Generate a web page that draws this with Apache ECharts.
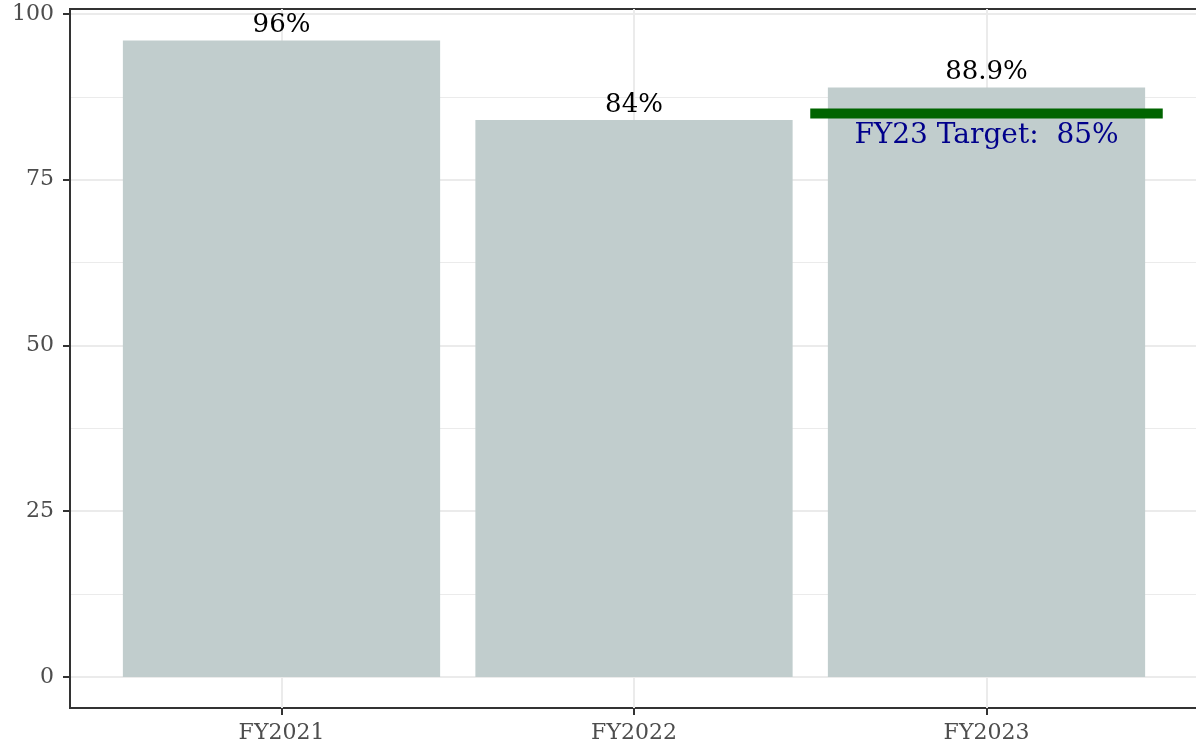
<!DOCTYPE html>
<html>
<head>
<meta charset="utf-8">
<script src="https://cdn.jsdelivr.net/npm/echarts@6/dist/echarts.min.js"></script>
<style>
html,body{margin:0;padding:0;background:#fff;}
#chart{width:1196px;height:746px;}
</style>
</head>
<body>
<div id="chart"></div>
<script>
// ---- data ----
const categories = ['FY2021', 'FY2022', 'FY2023'];
const values = [96, 84, 88.9];
const valueLabels = ['96%', '84%', '88.9%'];
const targetCategory = 'FY2023';
const targetValue = 85;
const targetLabel = 'FY23 Target:  85%';
const yTicks = [0, 25, 50, 75, 100];
const yMinorTicks = [12.5, 37.5, 62.5, 87.5];

// ---- build ----
const xPos = categories.map((c, i) => i + 1);
const barData = values.map((v, i) => [xPos[i], v]);
const tIdx = categories.indexOf(targetCategory) + 1;
const FONT = 'DejaVu Serif';

const chart = echarts.init(document.getElementById('chart'), null, {renderer: 'canvas'});
chart.setOption({
  animation: false,
  backgroundColor: '#ffffff',
  grid: [{
    left: 70, top: 9, width: 1128, bottom: 38,
    outerBoundsMode: 'none', containLabel: false,
    show: true, borderColor: '#333333', borderWidth: 2, backgroundColor: 'transparent'
  }, {
    left: 70, width: 1128, top: 698, bottom: 28,
    outerBoundsMode: 'none', containLabel: false,
    show: false
  }],
  xAxis: [{
    gridIndex: 0, type: 'value', min: 0.4, max: 3.6,
    axisLine: {show: false},
    axisTick: {show: false, customValues: xPos},
    axisLabel: {show: false, customValues: xPos},
    splitLine: {show: true, lineStyle: {color: '#EBEBEB', width: 2}}
  }, {
    gridIndex: 1, type: 'value', min: 0.4, max: 3.6, position: 'bottom',
    axisLine: {show: false, onZero: true},
    axisTick: {show: true, customValues: xPos, length: 7, lineStyle: {color: '#333333', width: 2}},
    axisLabel: {
      customValues: xPos, margin: 4,
      formatter: v => categories[Math.round(v) - 1] || '',
      color: '#4D4D4D', fontFamily: FONT, fontSize: 22
    },
    splitLine: {show: false}
  }],
  yAxis: [{
    gridIndex: 0, type: 'value', min: -4.68, max: 100.75, position: 'left',
    axisLine: {show: true, onZero: false, lineStyle: {color: '#333333', width: 2}},
    axisTick: {show: true, customValues: yTicks, length: 7, lineStyle: {color: '#333333', width: 2}},
    axisLabel: {
      customValues: yTicks, margin: 16,
      color: '#4D4D4D', fontFamily: FONT, fontSize: 22
    },
    splitLine: {show: true, lineStyle: {color: '#EBEBEB', width: 2}}
  }, {
    gridIndex: 0, type: 'value', min: -4.68, max: 100.75, position: 'left',
    axisLine: {show: false, onZero: false},
    axisTick: {show: false, customValues: yMinorTicks},
    axisLabel: {show: false, customValues: yMinorTicks},
    splitLine: {show: true, lineStyle: {color: '#EBEBEB', width: 1}}
  }, {
    gridIndex: 1, type: 'value', min: -1, max: 1, show: false
  }],
  series: [{
    type: 'bar',
    xAxisIndex: 0, yAxisIndex: 0,
    data: barData,
    barWidth: '90%',
    itemStyle: {color: '#C1CDCD'},
    label: {
      show: true, position: 'top', distance: 2,
      formatter: p => valueLabels[p.dataIndex],
      color: '#000000', fontFamily: FONT, fontSize: 26
    },
    z: 2
  }, {
    type: 'line',
    xAxisIndex: 0, yAxisIndex: 0,
    data: [[tIdx - 0.5, targetValue], [tIdx + 0.5, targetValue]],
    symbol: 'none',
    lineStyle: {color: '#006400', width: 10, cap: 'butt'},
    z: 3
  }, {
    type: 'scatter',
    xAxisIndex: 0, yAxisIndex: 0,
    data: [[tIdx, targetValue]],
    symbolSize: 0,
    itemStyle: {opacity: 1},
    label: {
      show: true, position: 'inside', offset: [0, 22],
      formatter: targetLabel,
      color: '#00008B', fontFamily: FONT, fontSize: 28
    },
    z: 4
  }]
});
</script>
</body>
</html>
